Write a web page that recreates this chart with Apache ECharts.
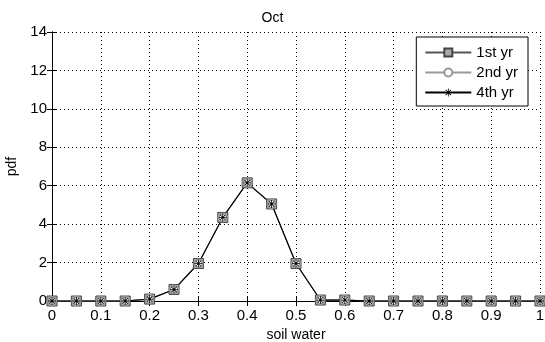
<!DOCTYPE html>
<html>
<head>
<meta charset="utf-8">
<script src="https://cdn.jsdelivr.net/npm/echarts@6/dist/echarts.min.js"></script>
<style>
  html, body { margin: 0; padding: 0; background: #fff; }
  #chart { width: 545px; height: 342px; }
</style>
</head>
<body>
<div id="chart"></div>
<script>
// soil water classes and pdf values
var soilWater = [0, 0.05, 0.1, 0.15, 0.2, 0.25, 0.3, 0.35, 0.4, 0.45, 0.5,
                 0.55, 0.6, 0.65, 0.7, 0.75, 0.8, 0.85, 0.9, 0.95, 1];
var yr1 = [0, 0, 0, 0, 0.1, 0.6, 1.95, 4.35, 6.15, 5.05, 1.95, 0.05, 0.05, 0, 0, 0, 0, 0, 0, 0, 0];
var yr2 = [0, 0, 0, 0, 0.1, 0.6, 1.95, 4.35, 6.15, 5.05, 1.95, 0.05, 0.05, 0, 0, 0, 0, 0, 0, 0, 0];
var yr4 = [0, 0, 0, 0, 0.1, 0.6, 1.95, 4.35, 6.15, 5.05, 1.95, 0.05, 0.05, 0, 0, 0, 0, 0, 0, 0, 0];
var seriesNames = ['1st yr', '2nd yr', '4th yr'];

var asterisk = 'path://M9,0h2v20h-2z M0,9h20v2h-20z M2.6,3.9l1.4,-1.4l13.4,13.4l-1.4,1.4z M16,2.5l1.4,1.4l-13.4,13.4l-1.4,-1.4z';

function pairs(ys) {
    var out = [];
    for (var i = 0; i < soilWater.length; i++) out.push([soilWater[i], ys[i]]);
    return out;
}

var font = 'Liberation Sans, Arial, sans-serif';
var gridLine = { show: true, lineStyle: { color: '#000', type: [1, 3], width: 1 } };

var option = {
    animation: false,
    backgroundColor: '#fff',
    title: {
        text: 'Oct', left: 'center', top: 6,
        textStyle: { fontFamily: font, fontSize: 14, fontWeight: 'normal', color: '#000' }
    },
    legend: {
        orient: 'vertical',
        right: 17, top: 37,
        padding: [8, 10, 6, 8],
        itemGap: 5,
        itemWidth: 46,
        itemHeight: 10,
        borderColor: '#000', borderWidth: 1, borderRadius: 0,
        backgroundColor: '#fff',
        textStyle: { fontFamily: font, fontSize: 15, color: '#000' },
        data: seriesNames
    },
    grid: { left: 52, right: 5, top: 32, bottom: 41, containLabel: false, outerBoundsMode: 'none' },
    xAxis: [{
        type: 'value', min: 0, max: 1, interval: 0.1,
        name: 'soil water', nameLocation: 'middle', nameGap: 27,
        nameTextStyle: { fontFamily: font, fontSize: 14, color: '#000' },
        axisLine: { show: true, lineStyle: { color: '#000' } },
        axisTick: { show: true, inside: true, length: 5, lineStyle: { color: '#000' } },
        axisLabel: { fontFamily: font, fontSize: 15, color: '#000', margin: 7,
            formatter: function (v) { return String(Math.round(v * 10) / 10); } },
        splitLine: gridLine
    }, {
        type: 'value', min: 0, max: 1, interval: 0.1, position: 'top',
        axisLine: { show: true, lineStyle: { color: '#000' } },
        axisTick: { show: true, inside: true, length: 5, lineStyle: { color: '#000' } },
        axisLabel: { show: false }, splitLine: { show: false }
    }],
    yAxis: [{
        type: 'value', min: 0, max: 14, interval: 2,
        name: 'pdf', nameLocation: 'middle', nameGap: 31,
        nameTextStyle: { fontFamily: font, fontSize: 14, color: '#000' },
        axisLine: { show: true, lineStyle: { color: '#000' } },
        axisTick: { show: true, inside: true, length: 5, lineStyle: { color: '#000' } },
        axisLabel: { fontFamily: font, fontSize: 15, color: '#000', margin: 5 },
        splitLine: gridLine
    }, {
        type: 'value', min: 0, max: 14, interval: 2, position: 'right',
        axisLine: { show: true, lineStyle: { color: '#000' } },
        axisTick: { show: true, inside: true, length: 5, lineStyle: { color: '#000' } },
        axisLabel: { show: false }, splitLine: { show: false }
    }],
    series: [{
        name: seriesNames[0], type: 'line', data: pairs(yr1),
        symbol: 'rect', symbolSize: 10,
        lineStyle: { color: '#555', width: 1 },
        itemStyle: { color: '#aaa', borderColor: '#444', borderWidth: 1 }
    }, {
        name: seriesNames[1], type: 'line', data: pairs(yr2),
        symbol: 'emptyCircle', symbolSize: 8,
        lineStyle: { color: '#999', width: 1 },
        itemStyle: { color: '#999', borderColor: '#888', borderWidth: 1 }
    }, {
        name: seriesNames[2], type: 'line', data: pairs(yr4),
        symbol: asterisk, symbolSize: 8,
        lineStyle: { color: '#000', width: 1.2 },
        itemStyle: { color: '#000' }
    }]
};

var chart = echarts.init(document.getElementById('chart'), null, { renderer: 'canvas' });
chart.setOption(option);
</script>
</body>
</html>
